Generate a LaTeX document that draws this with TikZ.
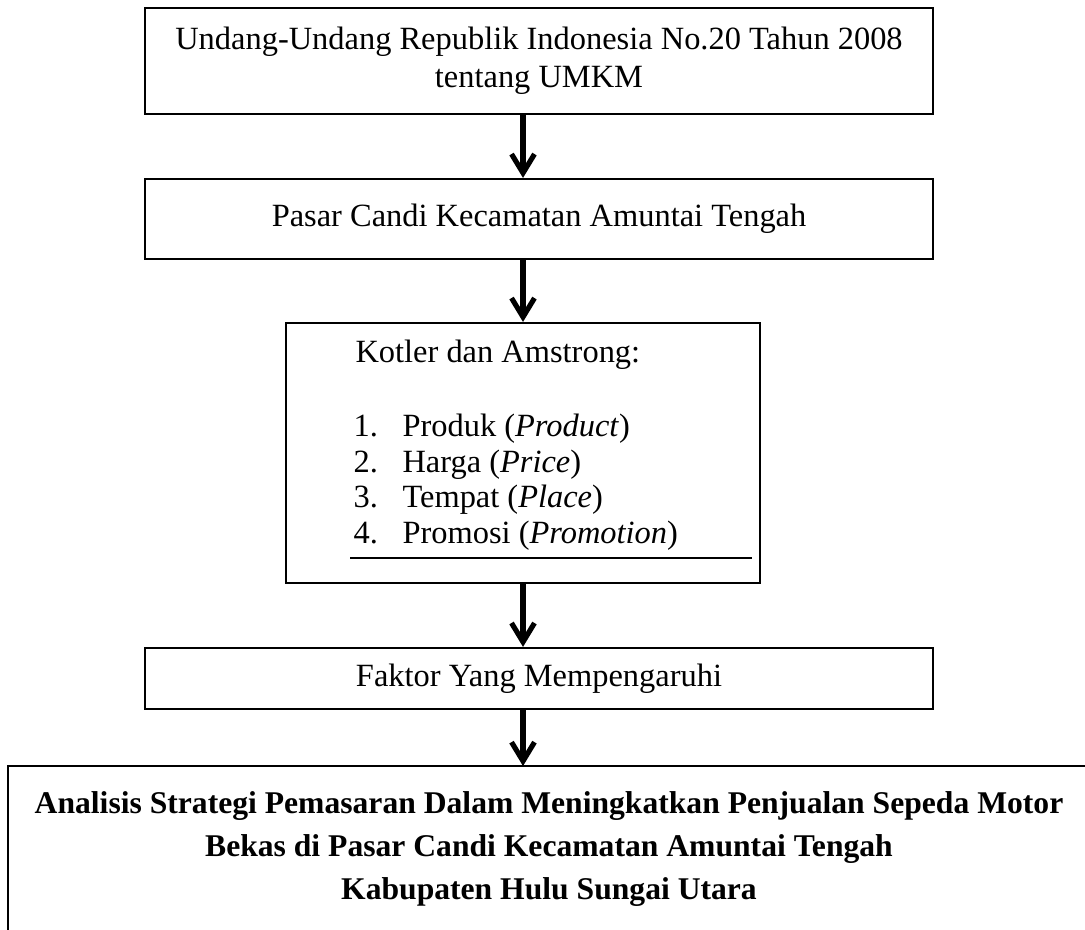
\documentclass[tikz,border=0pt]{standalone}
\usepackage{fontspec}
\setmainfont{Liberation Serif}
\usetikzlibrary{arrows.meta}

\tikzset{
  box/.style={draw,line width=0.8pt,inner sep=0pt,align=center,
    font=\fontsize{12}{14}\selectfont},
  txt/.style={inner sep=0pt,anchor=base west,font=\fontsize{12}{13.5}\selectfont},
  arr/.style={line width=1.9pt,-{Straight Barb[length=7pt,width=8.5pt]}}
}

\begin{document}
\begin{tikzpicture}[x=0.37pt,y=-0.37pt]
\useasboundingbox (0,0) rectangle (1085,929);

%undang-undang
\node[box,minimum width=291.6pt,minimum height=39.2pt] (uu) at (539,61)
  {Undang-Undang Republik Indonesia No.20 Tahun 2008\\tentang UMKM};

%pasar candi
\node[box,minimum width=291.6pt,minimum height=29.6pt] (pasar) at (539,219)
  {Pasar Candi Kecamatan Amuntai Tengah};

%kotler dan amstrong
\node[box,minimum width=175.4pt,minimum height=96.2pt] (kotler) at (523,453) {};
\node[txt] (judul) at (355,362) {Kotler dan Amstrong:};
\node[txt] (n1) at (353,436) {1.};
\node[txt] (p1) at (402,436) {Produk (\textit{Product})};
\node[txt] (n2) at (353,472) {2.};
\node[txt] (p2) at (402,472) {Harga (\textit{Price})};
\node[txt] (n3) at (353,507) {3.};
\node[txt] (p3) at (402,507) {Tempat (\textit{Place})};
\node[txt] (n4) at (353,543) {4.};
\node[txt] (p4) at (402,543) {Promosi (\textit{Promotion})};
\draw [line width=0.5pt] (350,558) -- (752,558);

%faktor
\node[box,minimum width=291.6pt,minimum height=22.6pt] (faktor) at (539,678.5)
  {Faktor Yang Mempengaruhi};

%analisis
\coordinate (top) at (523,766);
\draw [line width=0.8pt] (1100,766) -| (8,940);
\node[align=center,inner sep=0pt,font=\fontsize{11.7}{16}\selectfont\bfseries] (analisis) at (549,849)
  {Analisis Strategi Pemasaran Dalam Meningkatkan Penjualan Sepeda Motor\\
   Bekas di Pasar Candi Kecamatan Amuntai Tengah\\
   Kabupaten Hulu Sungai Utara};

%arrows
\draw [arr] (uu.south -| kotler) -- (pasar.north -| kotler);
\draw [arr] (pasar.south -| kotler) -- (kotler.north);
\draw [arr] (kotler.south) -- (faktor.north -| kotler);
\draw [arr] (faktor.south -| kotler) -- (top);
\end{tikzpicture}
\end{document}
